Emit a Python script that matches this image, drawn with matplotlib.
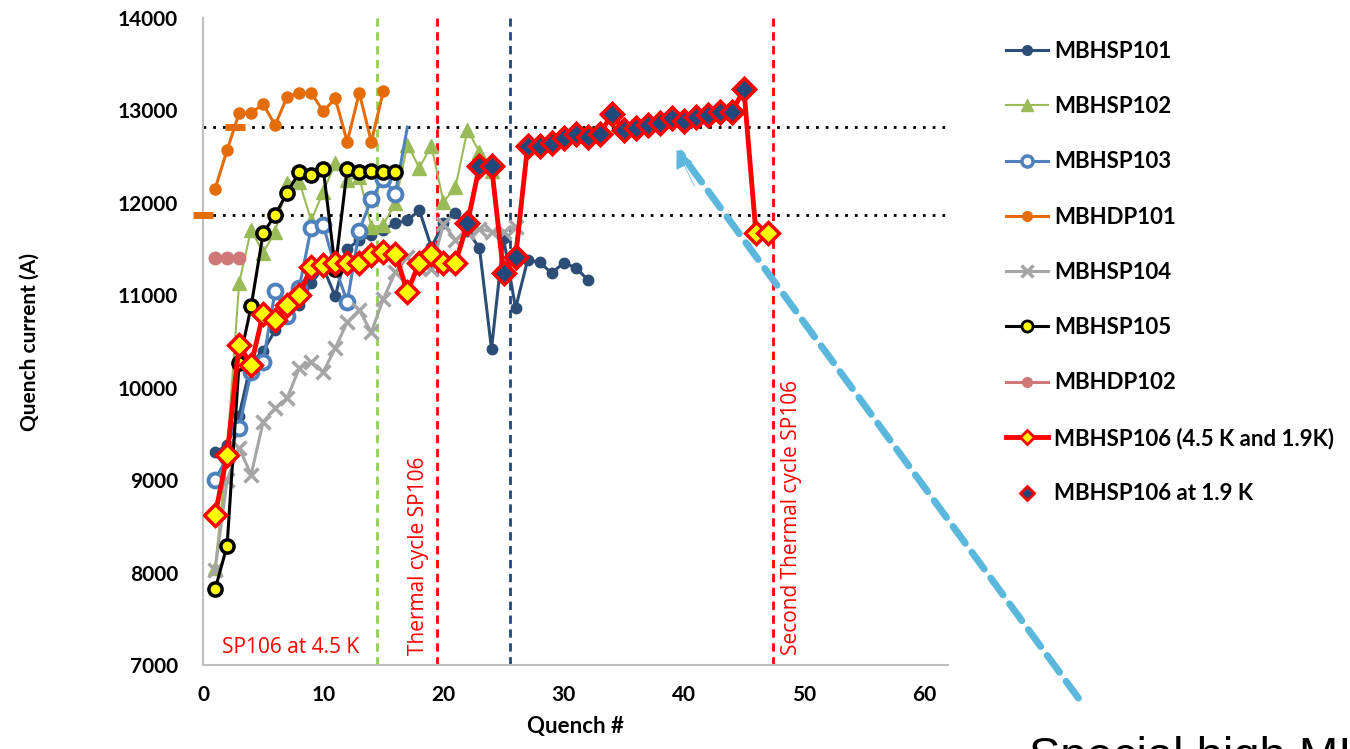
import matplotlib
matplotlib.use('Agg')
import matplotlib.pyplot as plt
from matplotlib.lines import Line2D

plt.rcParams['font.family'] = ['Lato', 'DejaVu Sans']

# Quench current (A) per quench number
sp101_y = [9300, 9380, 9700, 10270, 10400, 10620, 10800, 10900, 11130, 11300, 10990,
           11500, 11600, 11650, 11710, 11780, 11810, 11920, 11520, 11780, 11890, 11700,
           11510, 10420, 11620, 10860, 11380, 11360, 11240, 11350, 11300, 11170]
sp102_y = [8050, 9300, 11130, 11710, 11460, 11690, 12220, 12230, 11810, 12120, 12430,
           12250, 12280, 11740, 11760, 12000, 12630, 12380, 12620, 12010, 12170, 12790,
           12550, 12350]
sp103_y = [9000, 9250, 9570, 10170, 10280, 11050, 10780, 11080, 11730, 11760, 11300,
           10930, 11700, 12040, 12260, 12100, 12820]
dp101_y = [12150, 12570, 12970, 12970, 13070, 12840, 13150, 13190, 13190, 12990, 13130,
           12660, 13190, 12660, 13210]
dp101_limit_x = [0, 2.7]
dp101_limit_y = [11870, 12820]
sp104_y = [8030, 9000, 9350, 9060, 9630, 9780, 9890, 10210, 10280, 10170, 10430, 10710,
           10840, 10600, 10960, 11250, 11410, 11300, 11280, 11770, 11600, 11680, 11720,
           11690, 11690, 11740]
sp105_y = [7820, 8290, 10270, 10880, 11670, 11870, 12110, 12330, 12300, 12370, 11290,
           12370, 12330, 12350, 12330, 12330]
dp102_y = [11400, 11400, 11400]
sp106_y = [8620, 9270, 10460, 10250, 10800, 10730, 10900, 11000, 11310, 11330, 11350,
           11350, 11350, 11440, 11470, 11450, 11040, 11350, 11450, 11350, 11350,
           11780, 12400, 12400, 11240, 11410, 12610, 12610, 12650, 12700, 12750, 12710,
           12740, 12960, 12790, 12810, 12840, 12860, 12920, 12890, 12930, 12950, 12980,
           12980, 13230, 11670, 11670]

def quench_no(vals):
    return list(range(1, len(vals) + 1))

sp106_x = quench_no(sp106_y)
sp106_19k_x = sp106_x[21:45]
sp106_19k_y = sp106_y[21:45]

# markers on the chart
green_cycle = 14.5
thermal_cycle_1 = 19.5
blue_cycle = 25.5
thermal_cycle_2 = 47.4
ref_levels = [12820, 11870]

c101 = '#2c4d75'
c102 = '#9bbb59'
c103 = '#4f81bd'
cdp101 = '#e46c0a'
c104 = '#a5a5a5'
cdp102 = '#d07878'

fig = plt.figure(figsize=(13.5, 7.49), dpi=100)
ax = fig.add_axes([0.1504, 0.112, 0.552, 0.864])

ax.plot(quench_no(sp101_y), sp101_y, color=c101, lw=2.2, marker='o', ms=7.5, zorder=3)
ax.plot(quench_no(sp102_y), sp102_y, color=c102, lw=1.5, marker='^', ms=10, zorder=3)
x103 = quench_no(sp103_y)
ax.plot(x103, sp103_y, color=c103, lw=2.2, zorder=3)
ax.plot(x103[:-1], sp103_y[:-1], ls='none', marker='o', ms=10,
        mfc='white', mec=c103, mew=2.8, zorder=3)
ax.plot(quench_no(dp101_y), dp101_y, color=cdp101, lw=2.2, marker='o', ms=8, zorder=3)
ax.plot(dp101_limit_x, dp101_limit_y, ls='none', marker='_', ms=15, mew=5,
        color=cdp101, zorder=3, clip_on=False)
ax.plot(quench_no(sp104_y), sp104_y, color=c104, lw=2.2, marker='x', ms=10, mew=2.5, zorder=3)
ax.plot(quench_no(sp105_y), sp105_y, color='black', lw=2.2, marker='o', ms=9.5,
        mfc='#ffff00', mec='black', mew=2.5, zorder=4)
ax.plot(quench_no(dp102_y), dp102_y, color=cdp102, lw=2.2, marker='o', ms=9, zorder=3)
ax.plot(sp106_x, sp106_y, color='#ff0000', lw=3.5, marker='D', ms=11,
        mfc='#ffff00', mec='#ff0000', mew=2.5, zorder=5)
ax.plot(sp106_19k_x, sp106_19k_y, ls='none', marker='D', ms=11,
        mfc='#1f497d', mec='#ff0000', mew=2.5, zorder=6)

# reference levels and thermal cycles
for lvl in ref_levels:
    ax.axhline(lvl, color='black', lw=2, ls=(0, (1, 2.5)), zorder=2)
ax.axvline(green_cycle, color='#92d050', lw=2, ls=(0, (3, 2)), zorder=2)
ax.axvline(thermal_cycle_1, color='#ff0000', lw=2, ls=(0, (3, 2)), zorder=2)
ax.axvline(blue_cycle, color='#1f497d', lw=2, ls=(0, (3, 2)), zorder=2)
ax.axvline(thermal_cycle_2, color='#ff0000', lw=2, ls=(0, (3, 2)), zorder=2)

note_font = ['Open Sans', 'DejaVu Sans']
ax.text(1.6, 7130, 'SP106 at 4.5 K', color='#ff0000', fontsize=15, family=note_font)
ax.text(17.9, 7110, 'Thermal cycle SP106', color='#ff0000', fontsize=15, rotation=90,
        ha='center', va='bottom', family=note_font)
ax.text(49.0, 7110, 'Second Thermal cycle SP106', color='#ff0000', fontsize=15,
        rotation=90, ha='center', va='bottom', family=note_font)

ax.set_xlim(0, 62)
ax.set_ylim(7000, 14000)
ax.set_xticks(range(0, 61, 10))
ax.set_yticks(range(7000, 14001, 1000))
ax.tick_params(length=0, labelsize=15)
ax.tick_params(axis='x', pad=14)
ax.tick_params(axis='y', pad=18)
for lab in ax.get_xticklabels() + ax.get_yticklabels():
    lab.set_fontweight('bold')
for s in ['top', 'right']:
    ax.spines[s].set_visible(False)
for s in ['left', 'bottom']:
    ax.spines[s].set_color('#bfbfbf')
    ax.spines[s].set_linewidth(1.5)
ax.set_xlabel('Quench #', fontsize=16, fontweight='bold', labelpad=8)
ax.set_ylabel('Quench current (A)', fontsize=15, fontweight='bold', labelpad=56)

# dashed pointer arrow
arrow_c = '#5bb8dc'
ax.annotate('', xy=(39.6, 12560), xytext=(0.80, 0.065), textcoords='figure fraction',
            annotation_clip=False,
            arrowprops=dict(arrowstyle='-', color=arrow_c, lw=5, ls=(0, (3, 1.6))))
ax.annotate('', xy=(39.3, 12600), xytext=(41.0, 12150), annotation_clip=False,
            arrowprops=dict(arrowstyle='-|>', color=arrow_c, lw=0.5, mutation_scale=30))

fig.text(0.762, -0.028, 'Special high MI', fontsize=34, color='black',
         family=['Liberation Sans', 'DejaVu Sans'])

handles = [
    Line2D([], [], color=c101, lw=2.2, marker='o', ms=7),
    Line2D([], [], color=c102, lw=1.5, marker='^', ms=9),
    Line2D([], [], color=c103, lw=2.2, marker='o', ms=8, mfc='white', mew=2.5),
    Line2D([], [], color=cdp101, lw=2.2, marker='o', ms=7),
    Line2D([], [], color=c104, lw=2.2, marker='x', ms=8, mew=2.5),
    Line2D([], [], color='black', lw=2.2, marker='o', ms=8, mfc='#ffff00', mew=2),
    Line2D([], [], color=cdp102, lw=2.2, marker='o', ms=7),
    Line2D([], [], color='#ff0000', lw=3.5, marker='D', ms=7, mfc='#ffff00', mew=2),
    Line2D([], [], ls='none', marker='D', ms=7, mfc='#1f497d', mec='#ff0000', mew=2),
]
labels = ['MBHSP101', 'MBHSP102', 'MBHSP103', 'MBHDP101', 'MBHSP104', 'MBHSP105',
          'MBHDP102', 'MBHSP106 (4.5 K and 1.9K)', 'MBHSP106 at 1.9 K']
leg = fig.legend(handles, labels, loc='upper left', bbox_to_anchor=(0.7305, 0.972),
                 frameon=False, prop={'weight': 'bold', 'size': 16},
                 labelspacing=1.54, handlelength=1.9, handletextpad=0.25)

fig.savefig('out.png', dpi=100)
